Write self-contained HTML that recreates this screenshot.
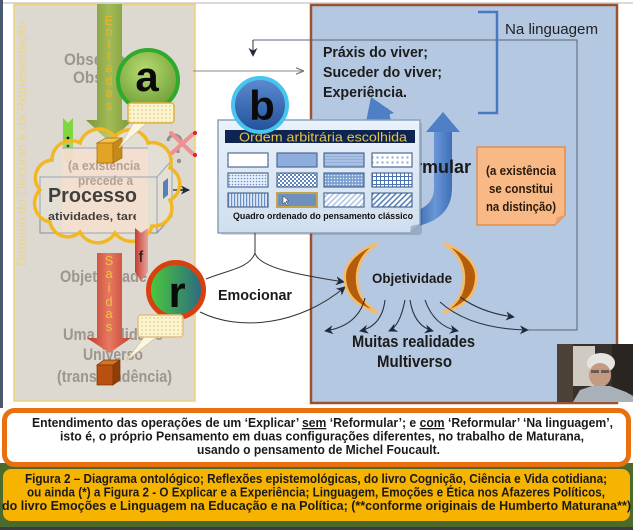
<!DOCTYPE html>
<html><head><meta charset="utf-8"><style>html,body{margin:0;padding:0;background:#fff;}svg{display:block;}</style></head>
<body>
<svg xmlns="http://www.w3.org/2000/svg" width="633" height="530" viewBox="0 0 633 530" font-family="'Liberation Sans', sans-serif">
<defs>
<linearGradient id="gArr" x1="0" x2="1" y1="0" y2="0"><stop offset="0" stop-color="#7a9636"/><stop offset=".5" stop-color="#a2bb58"/><stop offset="1" stop-color="#7a9636"/></linearGradient>
<linearGradient id="rArr" x1="0" x2="1" y1="0" y2="0"><stop offset="0" stop-color="#c0392a"/><stop offset=".5" stop-color="#e57a62"/><stop offset="1" stop-color="#c5402e"/></linearGradient>
<radialGradient id="aFill" cx=".45" cy=".35" r=".7"><stop offset="0" stop-color="#b8dc70"/><stop offset="1" stop-color="#6a9a34"/></radialGradient>
<linearGradient id="bFill" x1="0" x2="0" y1="0" y2="1"><stop offset="0" stop-color="#5e8cd2"/><stop offset="1" stop-color="#22509a"/></linearGradient>
<linearGradient id="rFill" x1="0" x2="1" y1="0" y2="0"><stop offset="0" stop-color="#4ccc3a"/><stop offset="1" stop-color="#2c6684"/></linearGradient>
<linearGradient id="tbl" x1="0" x2="0" y1="0" y2="1"><stop offset="0" stop-color="#eaf2fa"/><stop offset="1" stop-color="#cfdeef"/></linearGradient>
<linearGradient id="fRib" x1="0" x2="1" y1="0" y2="0"><stop offset="0" stop-color="#c43c30"/><stop offset="1" stop-color="#e8a4a0"/></linearGradient>
<linearGradient id="blA" x1="0" x2="1" y1="0" y2="0"><stop offset="0" stop-color="#3f6fb8"/><stop offset=".5" stop-color="#6a96d6"/><stop offset="1" stop-color="#3f6fb8"/></linearGradient>
<pattern id="pY" width="4" height="4" patternUnits="userSpaceOnUse"><rect width="4" height="4" fill="#fcf4cf"/><circle cx="2" cy="2" r=".9" fill="#e2cf92"/></pattern>
<pattern id="pD1" width="3" height="3" patternUnits="userSpaceOnUse"><rect width="3" height="3" fill="#e8f0fa"/><circle cx="1.5" cy="1.5" r=".8" fill="#6d90c6"/></pattern>
<pattern id="pD2" width="3" height="3" patternUnits="userSpaceOnUse"><rect width="3" height="3" fill="#7a9ed2"/><circle cx="1.5" cy="1.5" r=".8" fill="#e6eefa"/></pattern>
<pattern id="pCk" width="4" height="4" patternUnits="userSpaceOnUse"><rect width="4" height="4" fill="#fff"/><rect width="2" height="2" fill="#5f84be"/><rect x="2" y="2" width="2" height="2" fill="#5f84be"/></pattern>
<pattern id="pGr" width="4" height="4" patternUnits="userSpaceOnUse"><rect width="4" height="4" fill="#fff"/><path d="M0,0.5H4M0.5,0V4" stroke="#4d74b0" stroke-width="1"/></pattern>
<pattern id="pV" width="3" height="3" patternUnits="userSpaceOnUse"><rect width="3" height="3" fill="#dfe8f6"/><rect width="1.2" height="3" fill="#6a8ec6"/></pattern>
<pattern id="pDg" width="4" height="4" patternUnits="userSpaceOnUse" patternTransform="rotate(45)"><rect width="4" height="4" fill="#fff"/><rect width="1.6" height="4" fill="#5a80bc"/></pattern>
<pattern id="pDgL" width="4" height="4" patternUnits="userSpaceOnUse" patternTransform="rotate(45)"><rect width="4" height="4" fill="#fff"/><rect width="1.6" height="4" fill="#b0c6e6"/></pattern>
<pattern id="pH" width="3" height="3" patternUnits="userSpaceOnUse"><rect width="3" height="3" fill="#a8c1e4"/><rect width="3" height="1" fill="#92aed8"/></pattern>
<pattern id="pW" width="5" height="5" patternUnits="userSpaceOnUse"><rect width="5" height="5" fill="#fff"/><circle cx="2.5" cy="2.5" r="1.2" fill="#9ab4dc"/></pattern>
<marker id="ah" viewBox="0 0 10 10" refX="9" refY="5" markerWidth="9" markerHeight="9" markerUnits="userSpaceOnUse" orient="auto"><path d="M0,0 L10,5 L0,10 L3,5 Z" fill="#222a38"/></marker>
<marker id="ahg" viewBox="0 0 10 10" refX="9" refY="5" markerWidth="8" markerHeight="8" markerUnits="userSpaceOnUse" orient="auto"><path d="M0,1 L10,5 L0,9" fill="none" stroke="#777" stroke-width="1.5"/></marker>
<clipPath id="clipAt"><rect x="40" y="205" width="96" height="25"/></clipPath>
</defs>

<!-- background -->
<rect width="633" height="530" fill="#fff"/>
<line x1="0" y1="3" x2="633" y2="3" stroke="#b4b4b4" stroke-width="1"/>
<rect x="0" y="0" width="3" height="408" fill="#4a5870"/>

<!-- left panel -->
<rect x="14" y="4.5" width="181" height="396.5" fill="#ddd9d0" stroke="#ecd27a" stroke-width="1.5"/>
<text transform="translate(26,144) rotate(-90)" text-anchor="middle" font-size="12" fill="#e9d38c" textLength="245" lengthAdjust="spacingAndGlyphs">Domínio do Discurso e da Representação</text>

<g font-weight="bold" font-size="17" fill="#9c968e">
<text x="64" y="65" textLength="86" lengthAdjust="spacingAndGlyphs">Observador</text>
<text x="73" y="83" textLength="80" lengthAdjust="spacingAndGlyphs">Observado</text>
<text x="60" y="282" textLength="87" lengthAdjust="spacingAndGlyphs">Objetividade</text>
<text x="63" y="340" textLength="100" lengthAdjust="spacingAndGlyphs">Uma realidade</text>
<text x="83" y="360" textLength="60" lengthAdjust="spacingAndGlyphs">Universo</text>
<text x="57" y="382" textLength="115" lengthAdjust="spacingAndGlyphs">(transcendência)</text>
</g>

<!-- right blue panel -->
<rect x="311" y="5" width="306" height="398" fill="#b5c8e2" stroke="#9b5230" stroke-width="2.5"/>

<!-- connector lines -->
<path d="M253,40 L577,40 L577,330 L527,330" fill="none" stroke="#5a6478" stroke-width="1"/>
<path d="M253,40 L253,56" fill="none" stroke="#333" stroke-width="1" marker-end="url(#ah)"/>
<path d="M193,71 L303,71" fill="none" stroke="#888" stroke-width="1" marker-end="url(#ahg)"/>

<!-- bracket and Na linguagem -->
<path d="M478,12 L497,12 L497,113 L478,113" fill="none" stroke="#4a78c0" stroke-width="2.5"/>
<text x="505" y="34" font-size="15" fill="#222" textLength="93" lengthAdjust="spacingAndGlyphs">Na linguagem</text>

<g font-weight="bold" font-size="15" fill="#1c1c1c">
<text x="323" y="57" textLength="105" lengthAdjust="spacingAndGlyphs">Práxis do viver;</text>
<text x="323" y="77" textLength="119" lengthAdjust="spacingAndGlyphs">Suceder do viver;</text>
<text x="323" y="97" textLength="84" lengthAdjust="spacingAndGlyphs">Experiência.</text>
</g>

<!-- blue curved arrows -->
<path d="M434,130 L434,188 Q434,204 418,210 L418,226 Q452,218 452,188 L452,130 Z" fill="url(#blA)"/>
<polygon points="426,132 443,112 460,132" fill="#4f7fc4"/>
<path d="M376,125 L374,112 L388,108 L392,125 Z" fill="#4f7fc4"/>
<polygon points="366,122 371,97 394,113" fill="#4f7fc4"/>
<text x="471" y="173" text-anchor="end" font-size="18" font-weight="bold" fill="#1a1a1a">Reformular</text>

<!-- orange note -->
<path d="M477,147 L565,147 L565,215 L555,225 L477,225 Z" fill="#f9b987" stroke="#e0843a" stroke-width="1.2"/>
<path d="M565,215 L557,217 L555,225 Z" fill="#e8a070"/>
<g font-weight="bold" font-size="13" fill="#2a1a0a" text-anchor="middle">
<text x="521" y="175" textLength="70" lengthAdjust="spacingAndGlyphs">(a existência</text>
<text x="521" y="193" textLength="64" lengthAdjust="spacingAndGlyphs">se constitui</text>
<text x="521" y="211" textLength="70" lengthAdjust="spacingAndGlyphs">na distinção)</text>
</g>

<!-- table b -->
<rect x="220" y="122" width="202" height="113" rx="3" fill="rgba(0,0,0,0.15)"/>
<path d="M218,120 L420,120 L420,224 L410,233 L218,233 Z" fill="url(#tbl)" stroke="#8aa2bc" stroke-width="1.5"/>
<path d="M420,224 L411,226 L410,233 Z" fill="#9fb4cc"/>
<rect x="225" y="130" width="190" height="13" fill="#0d2550"/>
<text x="323" y="141.5" text-anchor="middle" font-size="13" fill="#e6c34a" textLength="168" lengthAdjust="spacingAndGlyphs">Ordem arbitrária escolhida</text>
<g stroke="#4d6a94" stroke-width="1.2">
<rect x="228" y="153" width="40" height="14" fill="#fff"/>
<rect x="277" y="153" width="40" height="14" fill="#8eacdc"/>
<rect x="324" y="153" width="40" height="14" fill="url(#pH)"/>
<rect x="372" y="153" width="40" height="14" fill="url(#pW)"/>
<rect x="228" y="173" width="40" height="14" fill="url(#pD1)"/>
<rect x="277" y="173" width="40" height="14" fill="url(#pCk)"/>
<rect x="324" y="173" width="40" height="14" fill="url(#pD2)"/>
<rect x="372" y="173" width="40" height="14" fill="url(#pGr)"/>
<rect x="228" y="193" width="40" height="14" fill="url(#pV)"/>
<rect x="277" y="193" width="40" height="14" fill="#6f8fbf" stroke="#c4a448" stroke-width="2"/>
<rect x="324" y="193" width="40" height="14" fill="url(#pDgL)"/>
<rect x="372" y="193" width="40" height="14" fill="url(#pDg)"/>
</g>
<path d="M283,196 L283,204 L285,202 L287,206 L288,205 L286,201 L289,201 Z" fill="#fff" stroke="#333" stroke-width=".5"/>
<text x="233" y="219" font-size="9.5" font-weight="bold" fill="#111" textLength="180" lengthAdjust="spacingAndGlyphs">Quadro ordenado do pensamento clássico</text>

<!-- b circle -->
<circle cx="260" cy="105" r="27" fill="url(#bFill)" stroke="#46c6ee" stroke-width="4"/>
<text x="262" y="120" text-anchor="middle" font-size="42" font-weight="bold" fill="#0a0a0a">b</text>

<!-- Emocionar connectors -->
<path d="M255,233 L255,253" fill="none" stroke="#333" stroke-width="1"/>
<path d="M206,279 C228,270 250,268 255,253 C259,268 300,275 344,282" fill="none" stroke="#333" stroke-width="1" marker-end="url(#ah)"/>
<path d="M200,312 C240,332 300,325 345,287" fill="none" stroke="#333" stroke-width="1" marker-end="url(#ah)"/>
<text x="218" y="300" font-size="15" font-weight="bold" fill="#1a1a1a" textLength="74" lengthAdjust="spacingAndGlyphs">Emocionar</text>

<!-- crescents -->
<g stroke="#f5bb66" stroke-width="2.5" fill="#b45c0c">
<path d="M378,243 C352,252 343,268 345,280 C346,295 356,306 378,313 C362,302 357,292 357,278 C357,264 364,252 378,243 Z"/>
<path d="M443,243 C469,252 478,268 476,280 C475,295 465,306 443,313 C459,302 464,292 464,278 C464,264 457,252 443,243 Z"/>
</g>
<text x="372" y="283" font-size="14" font-weight="bold" fill="#1a1a1a" textLength="80" lengthAdjust="spacingAndGlyphs">Objetividade</text>

<!-- objetividade arrows -->
<g fill="none" stroke="#2a3242" stroke-width="1.1">
<path d="M365,298 Q358,326 325,331" marker-end="url(#ah)"/>
<path d="M385,300 Q382,326 360,331" marker-end="url(#ah)"/>
<path d="M405,300 Q400,326 389,331" marker-end="url(#ah)"/>
<path d="M410,300 Q414,326 433,331" marker-end="url(#ah)"/>
<path d="M425,300 Q434,326 458,331" marker-end="url(#ah)"/>
<path d="M460,297 Q482,313 514,317" marker-end="url(#ah)"/>
<path d="M440,302 Q470,329 528,330" marker-end="url(#ah)"/>
</g>
<g font-weight="bold" fill="#1a1a1a">
<text x="352" y="347" font-size="17" textLength="123" lengthAdjust="spacingAndGlyphs">Muitas realidades</text>
<text x="377" y="367" font-size="17" textLength="75" lengthAdjust="spacingAndGlyphs">Multiverso</text>
</g>

<!-- webcam -->
<rect x="557" y="344" width="76" height="58" fill="#36312c"/>
<rect x="557" y="344" width="16" height="58" fill="#4c4136"/>
<rect x="573" y="346" width="22" height="40" fill="#cfcac2"/>
<rect x="612" y="344" width="21" height="50" fill="#2a2521"/>
<ellipse cx="601" cy="363" rx="14" ry="10" fill="#e6e4e0"/>
<ellipse cx="600" cy="375" rx="11" ry="12" fill="#c49a82"/>
<rect x="591" y="370" width="8" height="3" fill="#6a5a50"/>
<rect x="601" y="370" width="8" height="3" fill="#6a5a50"/>
<path d="M573,402 L580,390 L592,386 L610,386 L626,392 L633,396 L633,402 Z" fill="#a8b0b8"/>

<!-- left panel graphics: Entradas arrow -->
<path d="M97,4 L122,4 L122,120 L133,120 L109.5,142 L86,120 L97,120 Z" fill="url(#gArr)"/>
<g font-size="13" fill="#e8b42c" text-anchor="middle">
<text x="109" y="25">E</text><text x="109" y="36">n</text><text x="109" y="48">t</text><text x="109" y="60">r</text><text x="109" y="72">a</text><text x="109" y="85">d</text><text x="109" y="97">a</text><text x="109" y="110">s</text>
</g>

<!-- Saidas arrow -->
<path d="M97,253 L122,253 L122,338 L131,338 L109.5,353 L87,338 L97,338 Z" fill="url(#rArr)"/>
<g font-size="13" fill="#f0c040" text-anchor="middle">
<text x="109" y="265">S</text><text x="109" y="278">a</text><text x="109" y="292">í</text><text x="109" y="306">d</text><text x="109" y="318">a</text><text x="109" y="331">s</text>
</g>

<!-- green ribbon -->
<path d="M63,118 L68,123 L73,118 L73,158 L68,164 L63,158 Z" fill="#7fd640"/>
<circle cx="68" cy="138" r="1.4" fill="#111"/><circle cx="68" cy="146" r="1.4" fill="#111"/>

<!-- 3D box -->
<rect x="62" y="148" width="86" height="85" fill="#f2d8c6" opacity=".9"/>
<g fill="none" stroke="#8090a8" stroke-width="1">
<rect x="40" y="177" width="117" height="56"/>
<path d="M157,177 L172,160 L172,216 L157,233"/>
<path d="M62,148 L148,148"/>
</g>
<polygon points="163,182 168,178 168,195 163,199" fill="#3060b0"/>
<path d="M173,190 L189,190" stroke="#111" stroke-width="1.5" marker-end="url(#ah)"/>

<!-- text in box -->
<g font-weight="bold" fill="#a08a7a" font-size="13">
<text x="68" y="170" textLength="72" lengthAdjust="spacingAndGlyphs">(a existência</text>
<text x="78" y="185" textLength="55" lengthAdjust="spacingAndGlyphs">precede a</text>
</g>
<text x="48" y="202" font-size="20" font-weight="bold" fill="#111" textLength="89" lengthAdjust="spacingAndGlyphs">Processo</text>
<text x="48" y="220" font-size="11" font-weight="bold" fill="#111" clip-path="url(#clipAt)" textLength="110" lengthAdjust="spacingAndGlyphs">atividades, tarefas</text>

<!-- cloud -->
<path d="M50,222 A19,19 0 0 1 40,190 A18,18 0 0 1 52,160 A19,19 0 0 1 80,143 A20,20 0 0 1 115,137 A19,19 0 0 1 148,143 A19,19 0 0 1 170,168 A18,18 0 0 1 170,200 A18,18 0 0 1 152,226 A21,21 0 0 1 115,233 A20,20 0 0 1 80,232 A18,18 0 0 1 50,222 Z" fill="rgba(255,248,235,0.2)" stroke="#f2b824" stroke-width="3.5"/>

<!-- orange cube -->
<polygon points="97,143 106,138 122,138 113,143" fill="#f2c44a" stroke="#a86a10" stroke-width=".7"/>
<rect x="97" y="143" width="16" height="20" fill="#e2a424" stroke="#a86a10" stroke-width=".7"/>
<polygon points="113,143 122,138 122,158 113,163" fill="#c48a1a" stroke="#a86a10" stroke-width=".7"/>

<!-- ? and X -->
<path d="M168,141 A6.5,6.5 0 1 1 178,147 L178,153" fill="none" stroke="#909090" stroke-width="3"/>
<circle cx="179" cy="161" r="2.2" fill="#909090"/>
<g stroke="#f09090" stroke-width="4" stroke-linecap="round">
<line x1="171" y1="133" x2="193" y2="154"/><line x1="193" y1="134" x2="172" y2="153"/>
</g>
<circle cx="195" cy="133" r="2" fill="#e02020"/><circle cx="195" cy="155" r="2" fill="#e02020"/>

<!-- a circle + callout -->
<circle cx="148" cy="80" r="30" fill="url(#aFill)" stroke="#2eaa2e" stroke-width="4"/>
<text x="147" y="91" text-anchor="middle" font-size="42" font-weight="bold" fill="#0a0a0a">a</text>
<polygon points="134,122 148,122 119,148" fill="#fbf6e4" stroke="#d8c9a0" stroke-width=".8"/>
<rect x="128" y="103" width="46" height="20" rx="3" fill="url(#pY)" stroke="#e0b040" stroke-width="1.5"/>

<!-- f ribbon -->
<path d="M135,228 L141,233 L148,228 L148,272 L141,281 L135,272 Z" fill="url(#fRib)"/>
<text x="141" y="262" text-anchor="middle" font-size="16" fill="#111">f</text>

<!-- brown cube -->
<polygon points="97,365 104,360 120,360 113,365" fill="#d47424" stroke="#7a3606" stroke-width=".7"/>
<rect x="97" y="365" width="16" height="20" fill="#b85010" stroke="#7a3606" stroke-width=".7"/>
<polygon points="113,365 120,360 120,380 113,385" fill="#903e08" stroke="#7a3606" stroke-width=".7"/>

<!-- r circle + callout -->
<circle cx="176" cy="290" r="27.5" fill="url(#rFill)" stroke="#d84010" stroke-width="5"/>
<text x="177" y="307" text-anchor="middle" font-size="44" font-weight="bold" fill="#0a0a0a">r</text>
<polygon points="145,336 158,336 126,361" fill="#fbf6e4" stroke="#d8c9a0" stroke-width=".8"/>
<rect x="138" y="315" width="45" height="22" rx="3" fill="url(#pY)" stroke="#e0c080" stroke-width="1.5"/>

<!-- bottom area -->
<rect x="0" y="463" width="633" height="64" fill="#4d6a2e"/>
<rect x="0" y="527" width="633" height="3" fill="#3c3c3c"/>
<rect x="4.5" y="410.5" width="624" height="54" rx="10" fill="#fff" stroke="#e8700e" stroke-width="5"/>
<rect x="3" y="469" width="627" height="52" rx="8" fill="#f6b300"/>

<g font-weight="bold" font-size="13" fill="#1a1a1a">
<text x="32" y="427" textLength="581" lengthAdjust="spacingAndGlyphs">Entendimento das operações de um ‘Explicar’ <tspan text-decoration="underline">sem</tspan> ‘Reformular’; e <tspan text-decoration="underline">com</tspan> ‘Reformular’ ‘Na linguagem’,</text>
<text x="60" y="440.5" textLength="524" lengthAdjust="spacingAndGlyphs">isto é, o próprio Pensamento em duas configurações diferentes, no trabalho de Maturana,</text>
<text x="197" y="454" textLength="243" lengthAdjust="spacingAndGlyphs">usando o pensamento de Michel Foucault.</text>
<text x="25" y="483" textLength="582" lengthAdjust="spacingAndGlyphs">Figura 2 – Diagrama ontológico; Reflexões epistemológicas, do livro Cognição, Ciência e Vida cotidiana;</text>
<text x="27" y="496.5" textLength="578" lengthAdjust="spacingAndGlyphs">ou ainda (*) a Figura 2 - O Explicar e a Experiência; Linguagem, Emoções e Ética nos Afazeres Políticos,</text>
<text x="2" y="510" textLength="629" lengthAdjust="spacingAndGlyphs">do livro Emoções e Linguagem na Educação e na Política; (**conforme originais de Humberto Maturana**)</text>
</g>
</svg>
</body></html>
